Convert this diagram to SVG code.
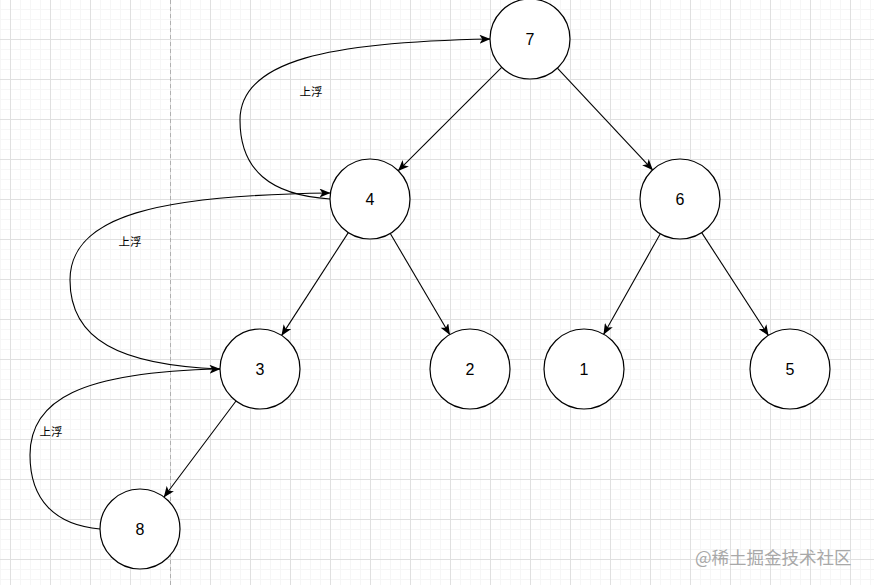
<svg xmlns="http://www.w3.org/2000/svg" width="874" height="585" viewBox="0 0 874 585">
  <style>
    .node circle { fill: #ffffff; stroke: #000000; stroke-width: 1.2; }
    .node text { font-family: "Liberation Sans", Arial, sans-serif; font-size: 16px; fill: #000000; text-anchor: middle; dominant-baseline: central; }
    .edge { fill: none; stroke: #000000; stroke-width: 1.1; marker-end: url(#arrow); }
    .lbl { font-family: "Liberation Sans", "Noto Sans CJK SC", sans-serif; font-size: 11.5px; fill: #000000; text-anchor: middle; dominant-baseline: central; }
    .wm { font-family: "Noto Sans CJK SC", sans-serif; font-size: 17.5px; fill: #a8a8a8; }
  </style>
  <defs>
    <pattern id="minor" x="10" y="9" width="10" height="10" patternUnits="userSpaceOnUse">
      <path d="M0,0.5 H10 M0.5,0 V10" stroke="#f6f6f6" stroke-width="1" fill="none"/>
    </pattern>
    <pattern id="major" x="10" y="39" width="40" height="40" patternUnits="userSpaceOnUse">
      <path d="M0,0.5 H40 M0.5,0 V40" stroke="#e0e0e0" stroke-width="1" fill="none"/>
    </pattern>
    <marker id="arrow" viewBox="0 0 11 9" refX="10.5" refY="4.5" markerWidth="11" markerHeight="9" markerUnits="userSpaceOnUse" orient="auto">
      <path d="M0,0 L11,4.5 L0,9 L2.8,4.5 Z" fill="#000000"/>
    </marker>
  </defs>
  <rect width="874" height="585" fill="#ffffff"/>
  <rect width="874" height="585" fill="url(#minor)"/>
  <rect width="874" height="585" fill="url(#major)"/>
  <line x1="170.5" y1="0" x2="170.5" y2="585" stroke="#b0b0b0" stroke-width="1" stroke-dasharray="4 3"/>

  <g id="connectors">
    <line class="edge" x1="501.7" y1="67.3" x2="398.3" y2="170.7"/>
    <line class="edge" x1="557.4" y1="68.2" x2="652.6" y2="169.8"/>
    <line class="edge" x1="348.3" y1="232.6" x2="281.7" y2="335.4"/>
    <line class="edge" x1="390.3" y1="233.5" x2="449.7" y2="334.5"/>
    <line class="edge" x1="660.3" y1="233.8" x2="603.7" y2="334.2"/>
    <line class="edge" x1="701.7" y1="232.6" x2="768.3" y2="335.4"/>
    <line class="edge" x1="236" y1="401" x2="164" y2="497"/>
    <path class="edge" d="M100,529 C55,525 30,500 30,455 C30,400 80,372 220,369"/>
    <path class="edge" d="M220,369 C120,365 70,340 70,280 C70,215 160,195 330,193"/>
    <path class="edge" d="M330,199 C270,195 240,170 240,120 C240,60 330,42 490,39"/>
    <text class="lbl" x="311" y="92">上浮</text>
    <text class="lbl" x="130" y="242">上浮</text>
    <text class="lbl" x="51" y="432">上浮</text>
  </g>

  <g id="node-7" class="node"><circle cx="530" cy="39" r="40"/><text x="530" y="39">7</text></g>
  <g id="node-4" class="node"><circle cx="370" cy="199" r="40"/><text x="370" y="199">4</text></g>
  <g id="node-6" class="node"><circle cx="680" cy="199" r="40"/><text x="680" y="199">6</text></g>
  <g id="node-3" class="node"><circle cx="260" cy="369" r="40"/><text x="260" y="369">3</text></g>
  <g id="node-2" class="node"><circle cx="470" cy="369" r="40"/><text x="470" y="369">2</text></g>
  <g id="node-1" class="node"><circle cx="584" cy="369" r="40"/><text x="584" y="369">1</text></g>
  <g id="node-5" class="node"><circle cx="790" cy="369" r="40"/><text x="790" y="369">5</text></g>
  <g id="node-8" class="node"><circle cx="140" cy="529" r="40"/><text x="140" y="529">8</text></g>

  <text class="wm" x="695" y="564">@稀土掘金技术社区</text>
</svg>
